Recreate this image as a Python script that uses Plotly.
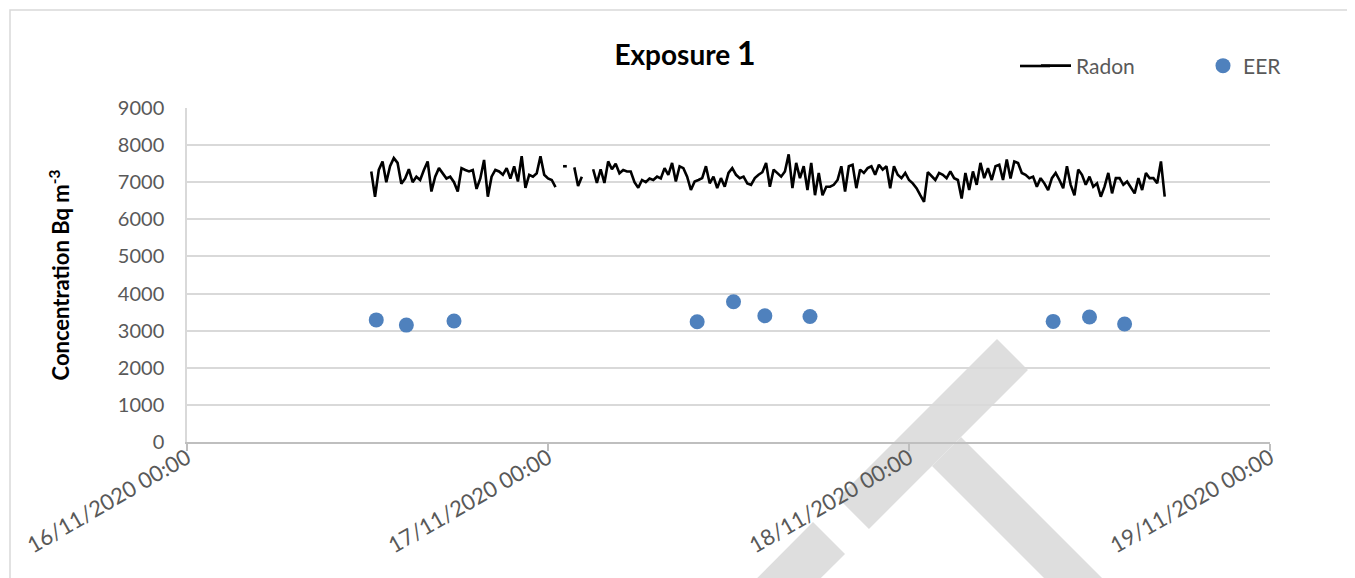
import pandas as pd
import plotly.graph_objects as go

# Radon concentration (Bq m-3), 15 minute readings from 16/11/2020 12:15, None = no reading
radon_start = "2020-11-16 12:15"
radon_values = [
    7290, 6610, 7330, 7560, 7000, 7430, 7650, 7520, 6960, 7100,
    7350, 7000, 7150, 7060, 7330, 7560, 6750, 7150, 7380, 7240,
    7100, 7150, 7000, 6750, 7380, 7330, 7290, 7330, 6820, 7100,
    7600, 6610, 7150, 7330, 7290, 7200, 7380, 7100, 7430, 7020,
    7700, 6850, 7200, 7150, 7240, 7700, 7200, 7100, 7060, 6870,
    None, 7430, 7430, None, 7400, 6900, 7150, None, None,
    7350, 6980, 7350, 6980, 7560, 7350, 7500, 7240, 7330, 7290,
    7290, 7000, 6850, 7060, 7000, 7100, 7060, 7150, 7100,
    7380, 7200, 7520, 7020, 7430, 7380, 7150, 6790, 7020, 7060,
    7110, 7430, 6970, 7150, 6840, 7110, 6880, 7250, 7380, 7200,
    7110, 7150, 6970, 6930, 7110, 7200, 7270, 7520, 6880, 7340,
    7250, 7150, 7290, 7750, 6840, 7520, 7110, 7430, 6790, 7520,
    6650, 7250, 6650, 6880, 6880, 6930, 7060, 7430, 6750, 7430,
    7470, 6840, 7340, 7250, 7380, 7430, 7200, 7470, 7340, 7430,
    6840, 7430, 7200, 7110, 7250, 7060, 6970, 6840, 6650, 6470,
    7270, 7150, 7060, 7250, 7200, 7110,
    7290, 7110, 7060, 6560, 7250, 6790, 7290, 6930, 7520, 7110,
    7380, 7060, 7430, 7470, 7060, 7610, 7100, 7560, 7520, 7250,
    7200, 7110, 7150, 6880, 7110, 6970, 6790, 7110, 7250, 7060,
    6840, 7430, 6930, 6650, 7340, 7200, 6930, 7150, 6880, 6970,
    6610, 6880, 7250, 6700, 7110, 7110, 6930, 7020, 6840, 6700,
    7110, 6790, 7250, 7110, 7110, 6970, 7560, 6610,
]

# EER samples
eer_times = [
    "2020-11-16 12:35", "2020-11-16 14:35", "2020-11-16 17:45",
    "2020-11-17 09:55", "2020-11-17 12:20", "2020-11-17 14:25", "2020-11-17 17:25",
    "2020-11-18 09:35", "2020-11-18 12:00", "2020-11-18 14:20",
]
eer_values = [3290, 3150, 3260, 3240, 3780, 3400, 3380, 3250, 3370, 3180]

radon_times = pd.date_range(radon_start, periods=len(radon_values), freq="15min")

# page has an 8px body margin, so the figure is laid out 8px smaller
OFF = 8
W, H = 1355 - OFF, 578 - OFF
PL, PR, PT, PB = 187, 1270, 108, 442  # plot area on the page


def px(x):
    return (x - PL) / (PR - PL)


def py(y):
    return (PB - y) / (PB - PT)


def poly(pts):
    return "M " + " L ".join(f"{px(a):.4f},{py(b):.4f}" for a, b in pts) + " Z"


grey = "#595959"
font = "Lato"

fig = go.Figure()
fig.add_trace(go.Scatter(
    x=radon_times, y=radon_values, mode="lines", name="Radon",
    line=dict(color="black", width=2.6), connectgaps=False, legend="legend",
))
fig.add_trace(go.Scatter(
    x=pd.to_datetime(eer_times), y=eer_values, mode="markers", name="EER",
    marker=dict(color="#4f81bd", size=15), legend="legend2",
))

# faint watermark strokes behind the chart
wm = [
    [(997, 339), (1028, 370), (869, 529), (838, 498)],
    [(813, 522), (845, 554), (649, 749), (618, 718)],
    [(932, 466), (961, 437), (1212, 688), (1183, 717)],
]
shapes = [dict(type="path", xref="paper", yref="paper", path=poly(p),
               fillcolor="#dedede", line=dict(width=0), layer="below") for p in wm]
# chart frame
shapes.append(dict(type="rect", xref="paper", yref="paper",
                   x0=px(10), y0=py(620), x1=px(1400), y1=py(10),
                   line=dict(color="#d9d9d9", width=1.5), layer="below"))
# longer legend line sample, as in the original
shapes.append(dict(type="line", xref="paper", yref="paper",
                   x0=px(1020), x1=px(1050), y0=py(66), y1=py(66),
                   line=dict(color="black", width=2.6)))

leg = dict(orientation="h", yanchor="middle", xanchor="left", y=py(66),
           font=dict(size=21, color=grey), bgcolor="rgba(0,0,0,0)")

fig.update_layout(
    width=W, height=H,
    margin=dict(l=PL - OFF, r=W - (PR - OFF), t=PT - OFF, b=H - (PB - OFF)),
    paper_bgcolor="white", plot_bgcolor="white",
    font=dict(family=font, color=grey, size=20),
    title=dict(
        text="<b>Exposure <span style='font-size:32px'>1</span></b>",
        font=dict(family=font, size=28, color="black"),
        x=px(685), xref="paper", xanchor="center",
        y=1 - (55 - OFF) / H, yref="container", yanchor="middle",
    ),
    legend=dict(leg, x=px(1036)),
    legend2=dict(leg, x=px(1203)),
    shapes=shapes,
    showlegend=True,
)
fig.update_xaxes(
    type="date", range=["2020-11-16", "2020-11-19"],
    tick0="2020-11-16", dtick=86400000, tickformat="%d/%m/%Y %H:%M",
    tickangle=-30, showgrid=False, showline=True, linecolor="#bfbfbf", linewidth=1.5,
    ticks="outside", ticklen=7, tickcolor="#bfbfbf", tickwidth=1.5,
    tickfont=dict(size=22, color=grey), zeroline=False,
    automargin=False, ticklabelstandoff=-14,
)
fig.update_yaxes(
    range=[0, 9000], dtick=1000, showgrid=True, gridcolor="#d9d9d9", gridwidth=1.5,
    showline=True, linecolor="#d9d9d9", linewidth=1.5, zeroline=False,
    tickfont=dict(size=20, color=grey), ticks="", ticklabelstandoff=17,
    automargin=False,
    title=dict(text="<b>Concentration Bq m<sup>-3</sup></b>",
               font=dict(size=22, color="black"), standoff=42),
)

fig.write_html("out.html")
